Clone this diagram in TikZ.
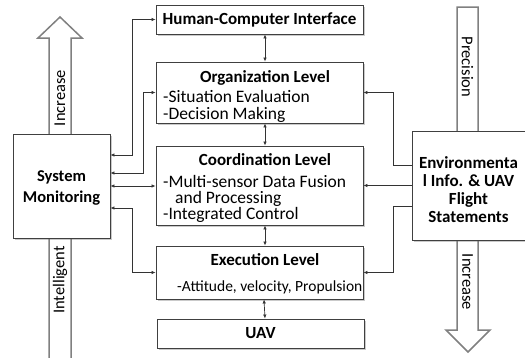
\documentclass[tikz,border=0pt]{standalone}
\usepackage{fontspec}
\setmainfont{Carlito}
\usetikzlibrary{arrows.meta,shadows}
\begin{document}
\begin{tikzpicture}[x=1pt,y=-1pt,
  box/.style={draw=black!75, line width=0.9pt, fill=white, drop shadow={shadow xshift=1.5pt,shadow yshift=-1.5pt,opacity=0.35,fill=black!60}, inner sep=0pt},
  ttl/.style={font=\fontsize{17}{18}\selectfont\bfseries},
  txt/.style={font=\fontsize{17.5}{17}\selectfont, inner sep=0pt},
  conn/.style={draw=black!80, line width=0.7pt},
  both/.style={conn, {Latex[length=4pt,width=3.5pt]}-{Latex[length=4pt,width=3.5pt]}},
  one/.style={conn, -{Latex[length=4pt,width=3.5pt]}},
  bigarrow/.style={draw=black!50, line width=1.5pt, fill=white},
  lbl/.style={font=\fontsize{16.5}{17}\selectfont, inner sep=0pt}
]
\useasboundingbox (0,0) rectangle (525,357);
% big arrows
\draw[bigarrow] (49,362) -- (49,38) -- (38,38) -- (60,17) -- (82,38) -- (71,38) -- (71,362) -- cycle;
\draw[bigarrow] (457,7) -- (457,330) -- (446,330) -- (468,352) -- (490,330) -- (478,330) -- (478,7) -- cycle;
\node[lbl, rotate=90] (inc1) at (60,98) {Increase};
\node[lbl, rotate=90] (intel) at (60,280) {Intelligent};
\node[lbl, rotate=-90] (prec) at (467.5,67) {Precision};
\node[lbl, rotate=-90] (inc2) at (467.5,282) {Increase};
% boxes
\node[box, ttl, minimum width=207pt, minimum height=29pt] (hci) at (259.5,19.5) {Human-Computer Interface};
\node[box, minimum width=207pt, minimum height=61pt] (org) at (259.5,92.5) {};
\node[ttl, anchor=base, inner sep=0pt] (orgt) at (265,82) {Organization Level};
\node[txt, anchor=base west] (org1) at (163,102) {-Situation Evaluation};
\node[txt, anchor=base west] (org2) at (163,119) {-Decision Making};
\node[box, minimum width=207pt, minimum height=79pt] (coord) at (259.5,185.5) {};
\node[ttl, anchor=base, inner sep=0pt] (coordt) at (265,165) {Coordination Level};
\node[txt, anchor=base west] (co1) at (163,187) {-Multi-sensor Data Fusion};
\node[txt, anchor=base west] (co2) at (175,203) {and Processing};
\node[txt, anchor=base west] (co3) at (163,219) {-Integrated Control};
\node[box, minimum width=207pt, minimum height=53pt] (exec) at (259.5,272.5) {};
\node[ttl, anchor=base, inner sep=0pt] (exect) at (265,265) {Execution Level};
\node[txt, anchor=base west, font=\fontsize{15.5}{16}\selectfont] (ex1) at (177,291) {-Attitude, velocity, Propulsion};
\node[box, ttl, minimum width=207pt, minimum height=29pt] (uav) at (260.5,333.5) {UAV};
\node[box, minimum width=97pt, minimum height=104pt] (sm) at (61.5,186) {};
\node[align=center, inner sep=0pt, font=\fontsize{16.5}{21}\selectfont\bfseries] (smt) at (61.5,188) {System\\Monitoring};
\node[box, minimum width=120pt, minimum height=109pt] (env) at (472,185.5) {};
\node[align=center, inner sep=0pt, font=\fontsize{17}{18}\selectfont\bfseries] (envt) at (468.5,190) {Environmenta\\l Info. \& UAV\\Flight\\Statements};
% vertical links
\draw[both] ([xshift=5.5pt]hci.south) -- ([xshift=5.5pt]org.north);
\draw[both] ([xshift=5.5pt]org.south) -- ([xshift=5.5pt]coord.north);
\draw[both] ([xshift=5.5pt]coord.south) -- ([xshift=5.5pt]exec.north);
\draw[both] ([xshift=4.5pt]exec.south) -- ([xshift=4.5pt]uav.north);
% left links
\draw[both] ([yshift=31pt]sm.east) -| ([xshift=-23pt]hci.west) -- (hci.west);
\draw[both] ([yshift=13pt]sm.east) -| ([xshift=-12pt]org.west) -- (org.west);
\draw[both] (sm.east) -- (sm.east -| coord.west);
\draw[both] ([yshift=-22pt]sm.east) -| ([xshift=-23pt]exec.west) -- (exec.west);
% right links
\draw[one] ([yshift=20pt]env.west) -| ([xshift=30pt]org.east) -- (org.east);
\draw[one] (env.west) -- (env.west -| coord.east);
\draw[one] ([yshift=-21pt]env.west) -| ([xshift=30pt]exec.east) -- (exec.east);
\end{tikzpicture}
\end{document}
